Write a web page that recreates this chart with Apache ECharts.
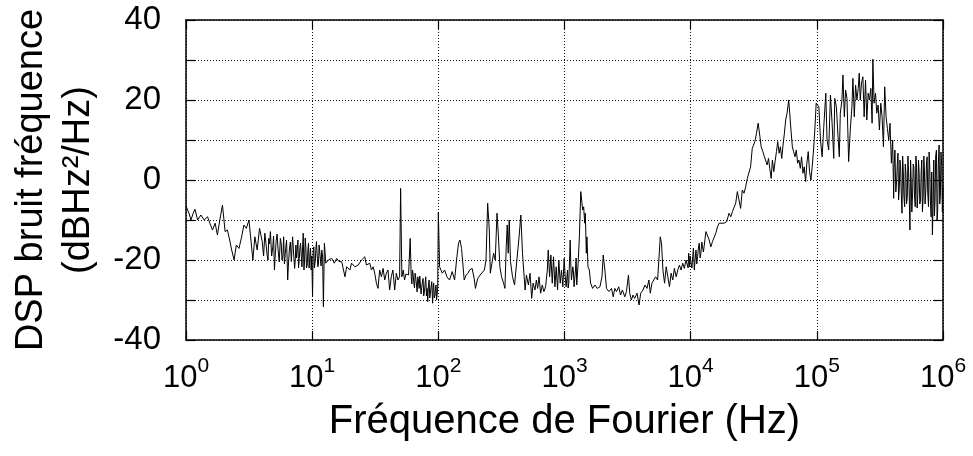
<!DOCTYPE html>
<html>
<head>
<meta charset="utf-8">
<script src="https://cdn.jsdelivr.net/npm/echarts@6/dist/echarts.min.js"></script>
<style>
  html, body { margin: 0; padding: 0; background: #fff; }
  #chart { width: 973px; height: 456px; }
</style>
</head>
<body>
<div id="chart"></div>
<script>
// Frequency noise power spectral density, pairs of [log10(f / Hz), dBHz²/Hz], one array per decade.
const decade1Hz = [
  [0.000,-6.5],[0.013,-7.5],[0.026,-8.5],[0.039,-10],[0.055,-8.5],[0.071,-7.3],[0.092,-10],[0.118,-8.75],
  [0.144,-10],[0.171,-9.2],[0.189,-10.8],[0.210,-12.5],[0.231,-10.8],[0.249,-13.75],[0.268,-10],[0.289,-6.25],
  [0.310,-12.9],[0.328,-12.5],[0.346,-15],[0.362,-17.5],[0.381,-20],[0.399,-16.25],[0.420,-17.1],[0.441,-14.2],
  [0.459,-11.25],[0.478,-12.1],[0.499,-10],[0.512,-14.2],[0.530,-20],[0.546,-14.2],[0.564,-17.5],[0.583,-12.1],
  [0.604,-15.4],[0.625,-13.3],[0.643,-18.75],[0.656,-14.6],[0.669,-12.9],[0.688,-16.7],[0.701,-22.5],[0.714,-15.4],
  [0.730,-17.5],[0.748,-14.6],[0.761,-20],[0.774,-14.2],[0.787,-18.3],[0.806,-25],[0.819,-17.5],[0.835,-20.4],
  [0.845,-14.2],[0.861,-22.1],[0.871,-16.25],[0.887,-15],[0.898,-19.6],[0.908,-15.8],[0.919,-21.7],[0.929,-13.3],
  [0.940,-20],[0.950,-16.7],[0.961,-21.25],[0.971,-15.8],[0.982,-19.2],[0.992,-22.5]
];
const decade10Hz = [
  [1.003,-29.2],[1.013,-16.7],[1.024,-20.4],[1.034,-15.4],[1.045,-21.7],[1.055,-16.25],[1.066,-20],[1.076,-17.5],
  [1.089,-31.7],[1.097,-15.8],[1.108,-20.8],[1.129,-20],[1.155,-19.6],[1.176,-20.8],[1.194,-19.6],[1.213,-20.4],
  [1.234,-20.4],[1.260,-24.2],[1.273,-21.7],[1.299,-22.5],[1.312,-20.8],[1.339,-21.7],[1.365,-21.25],[1.391,-20],
  [1.417,-19.2],[1.430,-21.25],[1.444,-21.7],[1.457,-20.8],[1.470,-22.5],[1.483,-21.7],[1.496,-23.3],[1.509,-25.8],
  [1.522,-27.1],[1.535,-22.5],[1.549,-24.2],[1.562,-22.1],[1.575,-25],[1.588,-23.3],[1.601,-22.5],[1.614,-27.5],
  [1.627,-24.2],[1.640,-22.5],[1.654,-27.5],[1.667,-23.3],[1.680,-25],[1.693,-24.2],[1.701,-2.1],[1.711,-24.2],
  [1.722,-22.5],[1.732,-25],[1.743,-23.5],[1.751,-23.3],[1.764,-23.75],[1.777,-14.6],[1.785,-24.2],[1.795,-22.5],
  [1.806,-25.8],[1.816,-23.3],[1.827,-26.25],[1.837,-24.2],[1.848,-27.1],[1.858,-23.75],[1.869,-26.7],[1.879,-24.6],
  [1.890,-27.9],[1.900,-24.2],[1.911,-27.1],[1.916,-30.4],[1.927,-25],[1.937,-28.3],[1.948,-25.4],[1.955,-30.8],
  [1.963,-25.8],[1.974,-28.75],[1.982,-26.25],[1.990,-28.75]
];
const decade100Hz = [
  [2.000,-8],[2.010,-21.7],[2.031,-23.3],[2.050,-22.5],[2.068,-24.2],[2.089,-25],[2.110,-22.9],[2.129,-25],
  [2.147,-19.2],[2.160,-15.8],[2.171,-15],[2.184,-17.1],[2.205,-25],[2.220,-23.75],[2.236,-23.3],[2.247,-22.5],
  [2.268,-22.1],[2.286,-25],[2.294,-27.1],[2.312,-24.6],[2.331,-23.75],[2.346,-24.2],[2.365,-22.5],[2.378,-20],
  [2.391,-5.8],[2.404,-12.5],[2.412,-23.3],[2.425,-20.8],[2.438,-18.3],[2.451,-20],[2.465,-8.3],[2.475,-13.3],
  [2.488,-21.7],[2.501,-24.2],[2.517,-25.8],[2.528,-27.1],[2.538,-16.7],[2.546,-11.25],[2.554,-18.3],[2.562,-10],
  [2.572,-20.4],[2.588,-24.2],[2.604,-26.25],[2.619,-26.7],[2.640,-14.2],[2.654,-8.75],[2.667,-18.3],[2.680,-24.2],
  [2.688,-27.5],[2.698,-23.75],[2.714,-26.25],[2.727,-23.3],[2.740,-29.6],[2.751,-25.8],[2.766,-27.5],[2.777,-25],
  [2.787,-27.1],[2.798,-24.2],[2.811,-28.3],[2.824,-26.25],[2.837,-27.9],[2.850,-26.7],[2.864,-22.5],[2.871,-17.5],
  [2.882,-24.2],[2.892,-18.75],[2.903,-25.8],[2.913,-19.2],[2.924,-26.7],[2.934,-21.7],[2.945,-27.5],[2.955,-20],
  [2.966,-25.8],[2.976,-22.5],[2.987,-26.7],[2.997,-19.6]
];
const decade1kHz = [
  [3.013,-26.7],[3.024,-22.5],[3.034,-25.8],[3.045,-15],[3.055,-25],[3.066,-21.7],[3.076,-26.7],[3.087,-22.5],
  [3.097,-26.25],[3.108,-20.8],[3.118,-14.2],[3.129,-2.9],[3.136,-5],[3.144,-7.5],[3.152,-6.7],[3.160,-10.8],
  [3.165,-8.3],[3.173,-18.3],[3.178,-14.2],[3.186,-21.7],[3.197,-22.5],[3.207,-25.8],[3.223,-27.1],[3.241,-26.25],
  [3.260,-27.1],[3.281,-26.7],[3.297,-24.2],[3.307,-18.75],[3.320,-22.5],[3.333,-27.1],[3.352,-27.9],[3.373,-27.1],
  [3.386,-29.2],[3.399,-27.1],[3.412,-27.9],[3.430,-26.7],[3.444,-28.75],[3.459,-27.5],[3.478,-29.2],[3.491,-27.9],
  [3.507,-23.75],[3.517,-28.3],[3.530,-30],[3.543,-28.75],[3.556,-29.6],[3.575,-28.3],[3.591,-31.25],[3.604,-28.3],
  [3.622,-27.5],[3.638,-26.25],[3.654,-27.1],[3.669,-25],[3.680,-28.3],[3.693,-25.8],[3.706,-26.25],[3.722,-24.2],
  [3.738,-25],[3.748,-20],[3.759,-14.2],[3.769,-15.8],[3.780,-22.5],[3.793,-25.8],[3.806,-21.7],[3.819,-24.2],
  [3.832,-26.7],[3.845,-23.3],[3.858,-25],[3.871,-22.1],[3.885,-24.2],[3.898,-22.5],[3.911,-21.25],[3.924,-22.5],
  [3.937,-20.8],[3.950,-22.1],[3.963,-20],[3.976,-20.4],[3.984,-18.3],[3.992,-21.7]
];
const decade10kHz = [
  [4.003,-19.2],[4.016,-19.2],[4.029,-22.5],[4.042,-17.5],[4.055,-19.2],[4.068,-15.8],[4.081,-18.3],[4.094,-16.7],
  [4.108,-17.5],[4.121,-12.9],[4.134,-12.9],[4.147,-15],[4.160,-16.7],[4.173,-15.4],[4.186,-15],[4.199,-13.3],
  [4.213,-11.7],[4.226,-10.8],[4.239,-10.4],[4.265,-10.8],[4.286,-10.4],[4.304,-8.3],[4.318,-9.2],[4.331,-7.9],
  [4.344,-8.3],[4.357,-5.8],[4.370,-2.9],[4.383,-5],[4.396,-7.1],[4.409,-2.5],[4.423,-3.3],[4.436,-1.7],
  [4.449,0.4],[4.462,0.8],[4.475,3.3],[4.488,7.9],[4.501,7.5],[4.509,9.6],[4.522,11.7],[4.535,14.2],
  [4.549,10.8],[4.559,8.3],[4.572,7.1],[4.585,5.8],[4.596,6.25],[4.606,3.75],[4.617,5.4],[4.627,2.9],
  [4.638,0.4],[4.648,5],[4.659,2.1],[4.669,4.6],[4.680,7.1],[4.690,9.6],[4.701,6.7],[4.711,8.3],
  [4.722,5.4],[4.732,8.75],[4.743,11.7],[4.753,15],[4.764,16.7],[4.777,20],[4.785,16.7],[4.795,12.5],
  [4.806,8.3],[4.816,7.1],[4.827,5.8],[4.837,7.5],[4.848,4.2],[4.858,5],[4.869,2.9],[4.879,5.8],
  [4.890,1.7],[4.900,3.3],[4.911,-0.4],[4.921,4.2],[4.932,7.1],[4.942,2.1],[4.953,0],[4.963,3.3],
  [4.974,7.5],[4.984,12.5],[4.995,19.2]
];
const decade100kHz = [
  [5.003,18.75],[5.016,18.3],[5.029,10],[5.042,5.8],[5.055,13.3],[5.071,21.7],[5.081,10],[5.094,7.5],
  [5.108,21.25],[5.121,14.2],[5.134,5.4],[5.142,20.4],[5.155,18.3],[5.165,12.5],[5.178,5.8],[5.186,16.7],
  [5.199,20],[5.207,26.25],[5.218,15.8],[5.228,22.5],[5.239,20.4],[5.252,4.6],[5.265,12.5],[5.278,18.3],
  [5.286,25.4],[5.297,15.8],[5.307,23.75],[5.318,20],[5.328,22.9],[5.336,26.7],[5.344,20],[5.354,24.2],
  [5.365,25.8],[5.375,15.8],[5.386,25],[5.396,15],[5.407,21.7],[5.417,20],[5.428,22.9],[5.438,14.2],
  [5.444,30.2],[5.454,19.2],[5.465,21.7],[5.475,16.7],[5.486,18.75],[5.496,12.5],[5.507,19.2],[5.517,15.8],
  [5.528,8.3],[5.538,23.3],[5.549,15.8],[5.559,12.9],[5.570,10],[5.580,14.2],[5.591,4.2],[5.601,10],
  [5.609,-4.6],[5.619,7.5],[5.633,0],[5.643,6.7],[5.654,-1.7],[5.664,3.3],[5.675,-8.3],[5.685,2.5],
  [5.696,-6.7],[5.706,1.7],[5.717,-4.2],[5.727,2.1],[5.738,-12.5],[5.748,0],[5.759,-3.3],[5.769,3.3],
  [5.780,-6.7],[5.790,4.2],[5.801,-3.3],[5.811,1.7],[5.822,-5],[5.832,5],[5.843,-4.2],[5.853,2.5],
  [5.864,-2.5],[5.874,5.8],[5.885,-6.7],[5.895,3.3],[5.906,-9.2],[5.916,-13.75],[5.927,5],[5.937,-5],
  [5.948,7.5],[5.958,-7.5],[5.969,8.75],[5.979,-4.2],[5.990,3.3],[6.000,-1.7]
];
// Extra readings inside the dense, noisy stretches near the end of each sweep span.
const denseSpan10Hz = [
  [0.615,-19],[0.634,-16],[0.650,-20],[0.662,-16],[0.679,-19],[0.694,-14],[0.707,-19],[0.722,-13.5],
  [0.739,-20.5],[0.755,-16],[0.768,-19],[0.780,-21],[0.797,-15],[0.812,-21],[0.827,-15.5],[0.840,-17],
  [0.853,-18.5],[0.866,-20],[0.876,-19.5],[0.892,-22],[0.903,-17],[0.913,-18.5],[0.924,-17],[0.935,-22.5],
  [0.945,-14.5],[0.955,-22],[0.966,-17.5],[0.976,-22],[0.987,-17],[0.997,-19],[1.008,-18],[1.018,-22],
  [1.029,-17.5],[1.040,-19],[1.050,-21],[1.060,-18],[1.071,-21.5],[1.083,-19]
];
const denseSpan100Hz = [
  [1.790,-26],[1.800,-23.5],[1.811,-27],[1.821,-24.5],[1.832,-28],[1.842,-25],[1.853,-24],[1.863,-28.5],
  [1.874,-25.5],[1.884,-29],[1.895,-26],[1.906,-29],[1.921,-26.5],[1.932,-29.5],[1.943,-26.5],[1.951,-28],
  [1.959,-27],[1.968,-29.5],[1.978,-27],[1.986,-30],[1.995,-27]
];
const denseSpan1kHz = [
  [3.005,-24],[3.029,-27],[3.050,-21],[3.071,-23],[3.092,-19.5]
];
const denseSpan10kHz = [
  [3.980,-22],[3.995,-19],[4.010,-22],[4.022,-17],[4.035,-20],[4.048,-21],[4.061,-17],[4.075,-19.5],
  [4.088,-15.5],[4.101,-18]
];
const denseSpan1MHz = [
  [5.612,3],[5.626,-3],[5.638,4],[5.648,-5],[5.659,5],[5.669,-3],[5.680,6],[5.690,-4],
  [5.701,4],[5.711,-6],[5.722,6],[5.732,-3],[5.743,5],[5.753,-8],[5.764,4],[5.774,-4],
  [5.785,6],[5.795,-7],[5.806,5],[5.816,-6],[5.827,2],[5.837,-8],[5.848,6],[5.858,-6],
  [5.869,4],[5.879,-3],[5.890,7],[5.900,-5],[5.911,2],[5.921,-7],[5.932,-9],[5.942,6],
  [5.953,-10],[5.963,4],[5.974,-6],[5.984,7],[5.995,-8]
];

const decadeExponents = [0, 1, 2, 3, 4, 5, 6];
const yTickLabels = ['-40', '-20', '0', '20', '40'];

const FONT = '"Liberation Sans", Arial, Helvetica, sans-serif';

const spectrum = []
  .concat(decade1Hz, decade10Hz, decade100Hz, decade1kHz, decade10kHz, decade100kHz,
          denseSpan10Hz, denseSpan100Hz, denseSpan1kHz, denseSpan10kHz, denseSpan1MHz)
  .sort((a, b) => a[0] - b[0])
  .map(p => [Math.pow(10, p[0]), p[1]]);

const dotted = { type: [1, 2], color: '#111', width: 1 };
const frame = { show: true, onZero: false, lineStyle: { color: '#000', width: 1.5 } };
const ticksIn = { show: true, inside: true, length: 9, lineStyle: { color: '#000', width: 1.2 } };

const chart = echarts.init(document.getElementById('chart'), null, { renderer: 'canvas' });
chart.setOption({
  animation: false,
  backgroundColor: '#fff',
  grid: { left: 180, right: 30, top: 20, bottom: 116, containLabel: false },
  xAxis: [
    {
      type: 'log', logBase: 10, min: 1, max: 1e6, splitNumber: 6,
      name: 'Fréquence de Fourier (Hz)',
      nameLocation: 'middle', nameGap: 62,
      nameTextStyle: { fontFamily: FONT, fontSize: 40, color: '#000' },
      axisLine: frame,
      axisTick: ticksIn,
      minorTick: { show: false },
      splitLine: { show: true, lineStyle: dotted },
      axisLabel: {
        margin: 16,
        formatter: v => {
          const e = Math.round(Math.log10(v));
          return decadeExponents.includes(e) ? '{b|10}{s|' + e + '}' : '';
        },
        rich: {
          b: { fontFamily: FONT, fontSize: 31, color: '#000', lineHeight: 38, verticalAlign: 'bottom' },
          s: { fontFamily: FONT, fontSize: 21, color: '#000', verticalAlign: 'top', lineHeight: 38 }
        }
      }
    },
    {
      type: 'log', logBase: 10, min: 1, max: 1e6, splitNumber: 6, position: 'top',
      axisLine: frame,
      axisTick: ticksIn,
      axisLabel: { show: false },
      splitLine: { show: false }
    }
  ],
  yAxis: [
    {
      type: 'value', min: -40, max: 40, interval: 10,
      name: 'DSP bruit fréquence\n(dBHz²/Hz)',
      nameLocation: 'middle', nameGap: 84, nameRotate: 90,
      nameTextStyle: { fontFamily: FONT, fontSize: 38, color: '#000', lineHeight: 47, align: 'center' },
      axisLine: frame,
      axisTick: ticksIn,
      splitLine: { show: true, lineStyle: dotted },
      axisLabel: {
        margin: 25, fontFamily: FONT, fontSize: 33, color: '#000',
        formatter: v => (yTickLabels.includes(String(v)) ? String(v) : '')
      }
    },
    {
      type: 'value', min: -40, max: 40, interval: 10, position: 'right',
      axisLine: frame,
      axisTick: ticksIn,
      axisLabel: { show: false },
      splitLine: { show: false }
    }
  ],
  series: [
    {
      type: 'line',
      xAxisIndex: 0, yAxisIndex: 0,
      data: spectrum,
      showSymbol: false,
      symbol: 'none',
      lineStyle: { color: '#000', width: 1 },
      z: 3
    }
  ]
});
</script>
</body>
</html>
